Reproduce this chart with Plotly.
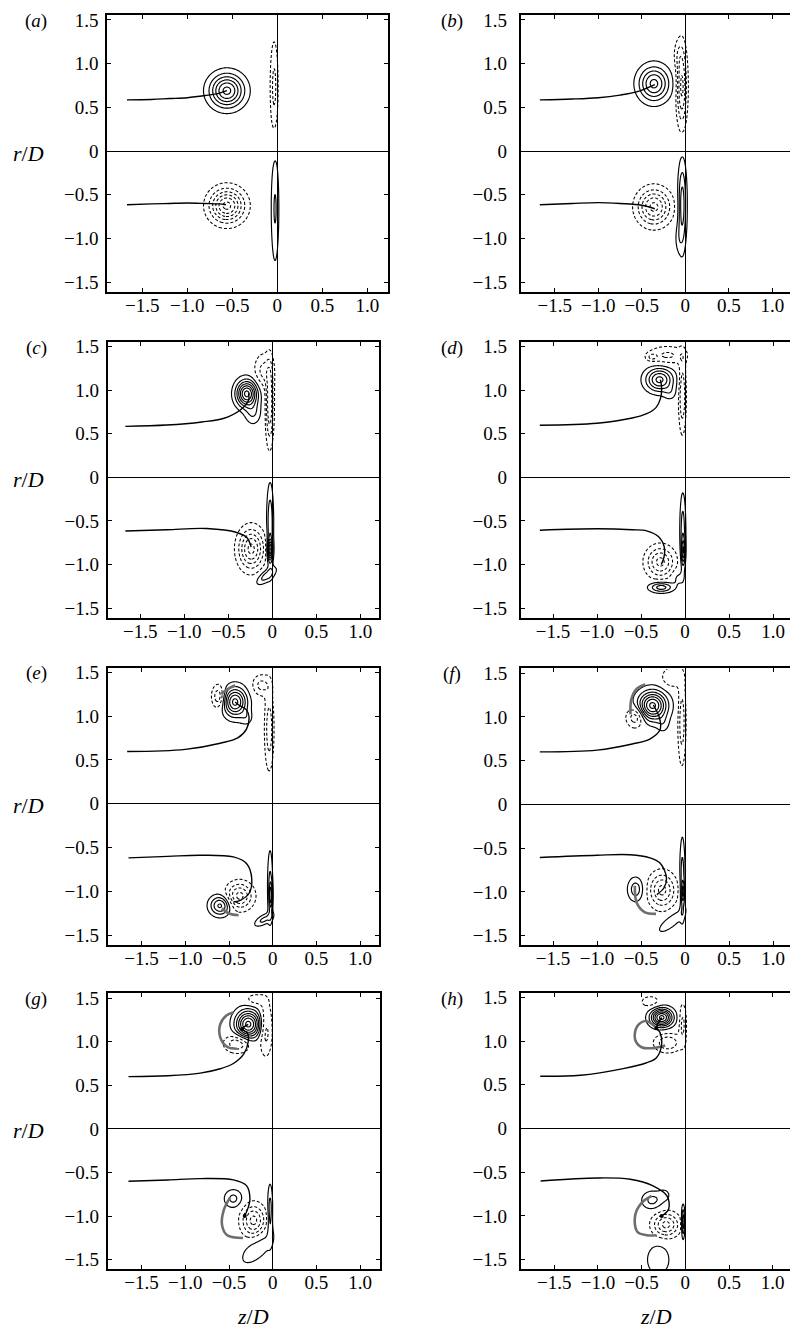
import numpy as np
import plotly.graph_objects as go

# ---------------------------------------------------------------------------
# Vorticity blobs per frame: (z0, r0, sigma_u, sigma_v, amplitude[, tilt_deg])
# positive amplitude -> solid contours, negative -> dashed contours
# ---------------------------------------------------------------------------
BLOBS_A = [(-0.56, 0.69, 0.124, 0.125, 0.90), (-0.035, 0.73, 0.030, 0.35, -0.30),
           (-0.56, -0.625, 0.124, 0.125, -0.90), (-0.025, -0.66, 0.030, 0.42, 0.27)]
BLOBS_B = [(-0.36, 0.77, 0.115, 0.130, 0.75), (-0.04, 0.74, 0.040, 0.29, -0.60),
           (-0.08, 1.10, 0.040, 0.12, -0.15),
           (-0.36, -0.64, 0.122, 0.132, -0.75), (-0.035, -0.62, 0.033, 0.32, 0.50),
           (-0.08, -1.00, 0.030, 0.12, 0.12)]
BLOBS_C = [(-0.29, 0.96, 0.080, 0.100, 1.05), (-0.22, 0.74, 0.060, 0.09, 0.25),
           (-0.03, 0.85, 0.030, 0.30, -0.55), (-0.10, 1.22, 0.070, 0.13, -0.30),
           (-0.24, -0.82, 0.095, 0.15, -0.75), (-0.025, -0.55, 0.025, 0.30, 0.40),
           (-0.025, -0.83, 0.020, 0.08, 0.80), (-0.07, -1.13, 0.090, 0.04, 0.35, 40)]
BLOBS_D = [(-0.29, 1.12, 0.105, 0.090, 0.75), (-0.17, 0.97, 0.050, 0.06, 0.15),
           (-0.03, 0.95, 0.028, 0.28, -0.40), (-0.20, 1.40, 0.150, 0.07, -0.28),
           (-0.38, 1.38, 0.040, 0.03, -0.20),
           (-0.28, -0.97, 0.105, 0.115, -0.60), (-0.27, -1.26, 0.090, 0.04, 0.50),
           (-0.025, -0.62, 0.022, 0.28, 0.35), (-0.02, -0.85, 0.015, 0.10, 0.50),
           (-0.08, -1.15, 0.050, 0.06, 0.15)]
BLOBS_E = [(-0.43, 1.16, 0.090, 0.110, 0.90), (-0.30, 0.98, 0.050, 0.06, 0.15),
           (-0.62, 1.22, 0.050, 0.09, -0.40), (-0.04, 0.85, 0.035, 0.30, -0.35),
           (-0.13, 1.35, 0.070, 0.08, -0.30),
           (-0.60, -1.16, 0.080, 0.075, 0.60), (-0.38, -1.05, 0.100, 0.10, -0.60),
           (-0.03, -0.95, 0.020, 0.28, 0.30), (-0.02, -1.05, 0.012, 0.10, 0.45),
           (-0.10, -1.32, 0.080, 0.035, 0.30, 30)]
BLOBS_F = [(-0.37, 1.13, 0.110, 0.110, 1.05), (-0.25, 0.92, 0.050, 0.07, 0.15),
           (-0.56, 1.00, 0.070, 0.08, -0.40), (-0.035, 0.95, 0.030, 0.32, -0.35),
           (-0.15, 1.45, 0.080, 0.08, -0.25),
           (-0.56, -0.97, 0.060, 0.09, 0.35), (-0.26, -0.98, 0.100, 0.13, -0.60),
           (-0.03, -0.85, 0.020, 0.30, 0.35), (-0.02, -1.00, 0.012, 0.08, 0.40),
           (-0.15, -1.33, 0.150, 0.050, 0.20, 40)]
BLOBS_G = [(-0.28, 1.20, 0.097, 0.108, 1.05), (-0.40, 0.98, 0.100, 0.07, -0.40),
           (-0.08, 1.15, 0.050, 0.20, -0.35), (-0.20, 1.48, 0.080, 0.05, -0.20),
           (-0.45, -0.80, 0.070, 0.07, 0.30), (-0.22, -1.05, 0.090, 0.12, -0.60),
           (-0.03, -0.95, 0.020, 0.20, 0.35), (-0.17, -1.36, 0.190, 0.085, 0.20, 45)]
BLOBS_H = [(-0.27, 1.27, 0.085, 0.070, 1.05), (-0.20, 0.98, 0.100, 0.07, -0.40),
           (-0.40, 1.45, 0.080, 0.05, -0.20), (-0.03, 1.20, 0.030, 0.15, -0.30),
           (-0.38, -0.82, 0.080, 0.07, 0.30), (-0.24, -0.76, 0.050, 0.05, 0.15),
           (-0.22, -1.10, 0.100, 0.09, -0.60), (-0.025, -1.07, 0.013, 0.11, 0.60),
           (-0.31, -1.50, 0.090, 0.12, 0.25)]

# ---------------------------------------------------------------------------
# Vortex-core trajectories (z/D, r/D) for the upper and lower ring cores
# ---------------------------------------------------------------------------
TRACK_UP_A = [(-1.67, 0.585), (-1.4, 0.59), (-1.2, 0.60), (-1.0, 0.61), (-0.8, 0.635), (-0.65, 0.66), (-0.56, 0.69)]
TRACK_LO_A = [(-1.67, -0.615), (-1.4, -0.605), (-1.2, -0.60), (-1.0, -0.595), (-0.8, -0.60), (-0.65, -0.605), (-0.57, -0.615)]
TRACK_UP_B = [(-1.67, 0.585), (-1.3, 0.595), (-1.0, 0.61), (-0.75, 0.64), (-0.55, 0.68), (-0.35, 0.76)]
TRACK_LO_B = [(-1.67, -0.615), (-1.3, -0.60), (-1.0, -0.59), (-0.75, -0.60), (-0.5, -0.62), (-0.35, -0.66)]
TRACK_UP_C = [(-1.67, 0.585), (-1.2, 0.60), (-0.8, 0.635), (-0.557, 0.675), (-0.367, 0.77), (-0.27, 0.88), (-0.27, 0.967)]
TRACK_LO_C = [(-1.67, -0.615), (-1.2, -0.60), (-0.745, -0.587), (-0.405, -0.632), (-0.29, -0.69), (-0.24, -0.80)]
TRACK_UP_D = [(-1.65, 0.598), (-1.0, 0.62), (-0.6, 0.68), (-0.435, 0.73), (-0.33, 0.80), (-0.28, 0.90), (-0.265, 1.02), (-0.28, 1.12)]
TRACK_LO_D = [(-1.65, -0.606), (-1.0, -0.59), (-0.6, -0.60), (-0.435, -0.613), (-0.30, -0.68), (-0.235, -0.80), (-0.24, -0.92), (-0.27, -1.0)]
TRACK_UP_E = [(-1.665, 0.595), (-1.0, 0.62), (-0.6, 0.69), (-0.4, 0.75), (-0.3, 0.85), (-0.27, 0.98), (-0.3, 1.07), (-0.38, 1.12), (-0.43, 1.16)]
TRACK_LO_E = [(-1.65, -0.617), (-1.2, -0.60), (-0.83, -0.587), (-0.45, -0.606), (-0.3, -0.68), (-0.24, -0.85), (-0.27, -1.02), (-0.37, -1.10), (-0.45, -1.12)]
TRACK_UP_F = [(-1.65, 0.60), (-1.0, 0.62), (-0.6, 0.69), (-0.4, 0.747), (-0.284, 0.853), (-0.29, 0.99), (-0.36, 1.136)]
TRACK_LO_F = [(-1.65, -0.606), (-1.0, -0.58), (-0.625, -0.575), (-0.4, -0.61), (-0.284, -0.67), (-0.21, -0.84), (-0.24, -0.955), (-0.32, -1.03)]
TRACK_UP_G = [(-1.65, 0.60), (-1.2, 0.61), (-0.83, 0.64), (-0.6, 0.69), (-0.45, 0.75), (-0.33, 0.86), (-0.28, 1.0), (-0.29, 1.10), (-0.35, 1.146), (-0.28, 1.20)]
TRACK_LO_G = [(-1.65, -0.60), (-1.2, -0.585), (-0.83, -0.57), (-0.45, -0.585), (-0.3, -0.65), (-0.26, -0.80), (-0.28, -0.90), (-0.32, -1.0)]
TRACK_UP_H = [(-1.66, 0.598), (-1.2, 0.61), (-0.71, 0.686), (-0.45, 0.75), (-0.33, 0.81), (-0.27, 0.97), (-0.29, 1.10), (-0.33, 1.15), (-0.27, 1.27)]
TRACK_LO_H = [(-1.655, -0.60), (-1.0, -0.565), (-0.63, -0.58), (-0.37, -0.655), (-0.21, -0.77), (-0.19, -0.92), (-0.27, -1.0)]

# Secondary-vortex paths (grey)
SEC_E = [[(-0.59, 1.25), (-0.51, 1.31), (-0.43, 1.35)],
         [(-0.58, -1.19), (-0.50, -1.25), (-0.39, -1.27)]]
SEC_F = [[(-0.62, 1.03), (-0.61, 1.20), (-0.55, 1.32), (-0.45, 1.37)],
         [(-0.57, -0.93), (-0.55, -1.12), (-0.46, -1.23), (-0.33, -1.25)]]
SEC_G = [[(-0.45, 1.335), (-0.53, 1.30), (-0.60, 1.20), (-0.60, 1.05), (-0.52, 0.94), (-0.41, 0.92)],
         [(-0.49, -0.79), (-0.56, -0.93), (-0.58, -1.10), (-0.52, -1.22), (-0.34, -1.25)]]
SEC_H = [[(-0.33, 1.15), (-0.45, 1.23), (-0.55, 1.17), (-0.575, 1.02), (-0.50, 0.93), (-0.37, 0.92), (-0.23, 0.95)],
         [(-0.385, -0.77), (-0.50, -0.85), (-0.575, -1.0), (-0.55, -1.18), (-0.44, -1.22), (-0.33, -1.22)]]

# Core markers at the end of the tracks (frames g, h)
DOTS_G = [(-0.35, 1.146), (-0.32, -1.0)]
DOTS_H = [(-0.33, 1.15), (-0.27, -1.0)]

X_TICKS = [-1.5, -1.0, -0.5, 0, 0.5, 1.0]
X_TICK_TEXT = ["\u22121.5", "\u22121.0", "\u22120.5", "0", "0.5", "1.0"]
Y_TICKS = [-1.5, -1.0, -0.5, 0, 0.5, 1.0, 1.5]
Y_TICK_TEXT = ["\u22121.5", "\u22121.0", "\u22120.5", "0", "0.5", "1.0", "1.5"]

FRAMES = [
    ("a", BLOBS_A, TRACK_UP_A, TRACK_LO_A, [], []),
    ("b", BLOBS_B, TRACK_UP_B, TRACK_LO_B, [], []),
    ("c", BLOBS_C, TRACK_UP_C, TRACK_LO_C, [], []),
    ("d", BLOBS_D, TRACK_UP_D, TRACK_LO_D, [], []),
    ("e", BLOBS_E, TRACK_UP_E, TRACK_LO_E, SEC_E, []),
    ("f", BLOBS_F, TRACK_UP_F, TRACK_LO_F, SEC_F, []),
    ("g", BLOBS_G, TRACK_UP_G, TRACK_LO_G, SEC_G, DOTS_G),
    ("h", BLOBS_H, TRACK_UP_H, TRACK_LO_H, SEC_H, DOTS_H),
]

# Plot boxes in page pixels: left, right, top, bottom, pixel of z=0, px per unit
W, H = 790, 1331
BOXES = [
    (107.3, 388.3, 9.3, 287.3, 277.3, 90.0),
    (520.7, 790.0, 9.3, 287.3, 685.3, 87.1),
    (107.8, 379.3, 337.7, 615.0, 272.3, 88.0),
    (520.7, 790.0, 337.7, 615.0, 685.0, 88.0),
    (107.7, 379.0, 665.0, 944.0, 272.7, 87.4),
    (521.0, 790.0, 666.0, 944.3, 685.0, 88.0),
    (107.7, 380.0, 992.7, 1270.0, 272.7, 87.4),
    (520.7, 790.0, 992.0, 1270.0, 685.3, 87.4),
]
R_RANGE = [-1.61, 1.553]

SERIF = "Liberation Serif"
LEVEL_START, LEVEL_STEP = 0.10, 0.15

# sampling grid, refined close to the wall at z = 0
zg = np.concatenate([np.arange(-0.95, -0.16, 0.01), np.arange(-0.16, 0.06, 0.004)])
rg = np.arange(-1.61, 1.556, 0.012)
ZZ, RR = np.meshgrid(zg, rg)


def field(blobs):
    w = np.zeros_like(ZZ)
    for b in blobs:
        z0, r0, su, sv, amp = b[:5]
        th = np.radians(b[5]) if len(b) > 5 else 0.0
        dz, dr = ZZ - z0, RR - r0
        u = dz * np.cos(th) + dr * np.sin(th)
        v = -dz * np.sin(th) + dr * np.cos(th)
        w += amp * np.exp(-0.5 * ((u / su) ** 2 + (v / sv) ** 2))
    return w


def label(text, x, y, size):
    return dict(text=text, x=x / W, y=1 - y / H, xref="paper", yref="paper",
                xanchor="center", yanchor="middle", showarrow=False,
                font=dict(family=SERIF, size=size, color="black"))


fig = go.Figure()
annotations = []

for i, (name, blobs, up, lo, sec, dots) in enumerate(FRAMES):
    k = "" if i == 0 else str(i + 1)
    xa, ya = "x" + k, "y" + k
    x0, x1, y0, y1, zpix, scale = BOXES[i]
    right_col = i % 2 == 1

    w = field(blobs)
    for sign, dash, lw in ((1, "solid", 1.15), (-1, "3px,2px", 1.05)):
        fig.add_trace(go.Contour(
            x=zg, y=rg, z=(sign * w).astype(np.float32),
            contours=dict(start=LEVEL_START, end=3.0, size=LEVEL_STEP, coloring="none"),
            line=dict(color="black", width=lw, dash=dash, smoothing=1.0),
            showscale=False, hoverinfo="skip", xaxis=xa, yaxis=ya))

    for path in sec:
        fig.add_trace(go.Scatter(
            x=[p[0] for p in path], y=[p[1] for p in path], mode="lines",
            line=dict(color="#6e6e6e", width=2.6, shape="spline"),
            hoverinfo="skip", xaxis=xa, yaxis=ya))

    for path in (up, lo):
        fig.add_trace(go.Scatter(
            x=[p[0] for p in path], y=[p[1] for p in path], mode="lines",
            line=dict(color="black", width=1.4, shape="spline"),
            hoverinfo="skip", xaxis=xa, yaxis=ya))

    if dots:
        fig.add_trace(go.Scatter(
            x=[p[0] for p in dots], y=[p[1] for p in dots], mode="markers",
            marker=dict(color="black", size=4), hoverinfo="skip", xaxis=xa, yaxis=ya))

    xrange = [(x0 - zpix) / scale, (x1 - zpix) / scale]
    common = dict(showgrid=False, zeroline=True, zerolinecolor="black", zerolinewidth=1,
                  showline=True, linecolor="black", linewidth=2,
                  ticks="inside", ticklen=4, tickwidth=1, tickcolor="black",
                  tickfont=dict(family=SERIF, size=19, color="black"))
    fig.update_layout(**{
        "xaxis" + k: dict(common, domain=[x0 / W, x1 / W], range=xrange, anchor=ya,
                          tickvals=X_TICKS, ticktext=X_TICK_TEXT, mirror="ticks",
                          ticklabelstandoff=-5),
        "yaxis" + k: dict(common, domain=[1 - y1 / H, 1 - y0 / H], range=R_RANGE, anchor=xa,
                          tickvals=Y_TICKS, ticktext=Y_TICK_TEXT,
                          mirror=False if right_col else "ticks",
                          ticklabelstandoff=8 if right_col else 3),
    })

    lx = 452 if right_col else 36
    annotations.append(label("(<i>%s</i>)" % name, lx, y0 + 6, 19))
    if not right_col:
        r0pix = y0 + R_RANGE[1] / (R_RANGE[1] - R_RANGE[0]) * (y1 - y0)
        annotations.append(label("<i>r</i>/<i>D</i>", 28, r0pix + 2, 22))

annotations.append(label("<i>z</i>/<i>D</i>", 253, 1317, 22))
annotations.append(label("<i>z</i>/<i>D</i>", 656, 1317, 22))

fig.update_layout(width=W, height=H, margin=dict(l=0, r=0, t=0, b=0),
                  paper_bgcolor="white", plot_bgcolor="white", showlegend=False,
                  annotations=annotations)

fig.write_html("out.html")
